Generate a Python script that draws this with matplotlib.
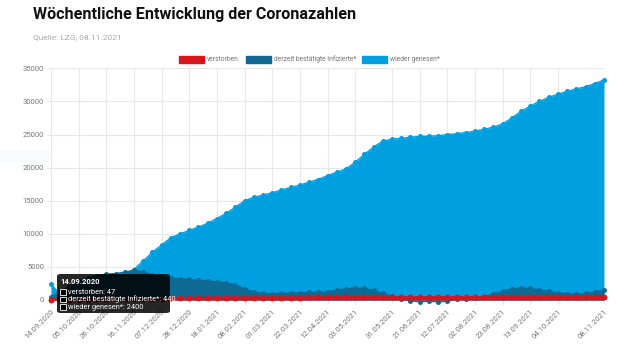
import numpy as np
import pandas as pd
import matplotlib
matplotlib.use("Agg")
import matplotlib.pyplot as plt
from matplotlib.patches import Rectangle, FancyBboxPatch

# weekly values, 14.09.2020 .. 08.11.2021
weeks = pd.date_range("2020-09-14", "2021-11-08", freq="7D")

verstorben = [47, 50, 55, 62, 70, 80, 95, 110, 130, 150,
              175, 200, 225, 250, 270, 290, 305, 320, 330, 340,
              350, 355, 360, 365, 368, 370, 372, 375, 378, 380,
              383, 386, 390, 393, 396, 398, 400, 401, 402, 403,
              404, 405, 406, 407, 408, 410, 412, 415, 418, 421,
              425, 430, 435, 440, 445, 450, 455, 460, 465, 470, 475]

infizierte = [440, 1300, 2100, 2800, 3300, 3700, 3900, 4000, 4200, 4500,
              4200, 3800, 3400, 3300, 3200, 3100, 3000, 2900, 2750, 2600,
              2300, 1700, 1200, 1000, 950, 1000, 1050, 1100, 1150, 1200,
              1250, 1450, 1700, 1800, 1750, 1450, 1000, 600, 200, -150,
              -250, -200, -250, -200, 100, 200, 300, 500, 900, 1300,
              1700, 1800, 1750, 1500, 1300, 1100, 950, 900, 1000, 1200, 1500]

genesen = [2400, 800, 1100, 1500, 2000, 2500, 3000, 3400, 3800, 4600,
           5900, 7200, 8300, 9400, 10000, 10500, 11000, 11600, 12300, 13100,
           14000, 15000, 15500, 15850, 16200, 16600, 17000, 17350, 17800, 18200,
           18800, 19300, 19800, 20800, 22000, 23100, 24000, 24300, 24400, 24600,
           24700, 24750, 24800, 25000, 25100, 25300, 25500, 25800, 26100, 26600,
           27500, 28500, 29300, 30000, 30600, 31100, 31500, 31900, 32200, 32700, 33250]

shown_ticks = ["14.09.2020", "05.10.2020", "26.10.2020", "16.11.2020", "07.12.2020",
               "28.12.2020", "18.01.2021", "08.02.2021", "01.03.2021", "22.03.2021",
               "12.04.2021", "03.05.2021", "31.05.2021", "21.06.2021", "12.07.2021",
               "02.08.2021", "23.08.2021", "13.09.2021", "04.10.2021", "08.11.2021"]

week_labels = [d.strftime("%d.%m.%Y") for d in weeks]
x = np.arange(len(weeks))
tick_pos = [week_labels.index(t) for t in shown_ticks]

RED = "#d6161c"
DARK = "#0e6a93"
LIGHT = "#009fe0"
GRID = "#e8e8e8"
W, H = 640, 351

plt.rcParams["font.family"] = ["Roboto", "DejaVu Sans"]

fig = plt.figure(figsize=(W / 100, H / 100), dpi=100)


def fx(px):
    return px / W


def fy(py):
    return 1 - py / H


ax = fig.add_axes([fx(51), fy(300), fx(604) - fx(51), fy(68.3) - fy(300)])

mk = dict(marker="o", mew=0, clip_on=False)
ax.fill_between(x, genesen, 0, color=LIGHT, lw=0, zorder=2)
ax.plot(x, genesen, color=LIGHT, lw=1, ms=3.6, zorder=2, **mk)
ax.fill_between(x, infizierte, 0, color=DARK, lw=0, zorder=3)
ax.plot(x, infizierte, color=DARK, lw=1, ms=3.6, zorder=3, **mk)
ax.fill_between(x, verstorben, 0, color=RED, lw=0, zorder=4)
ax.plot(x, verstorben, color=RED, lw=1.8, ms=4.2, zorder=4, **mk)

ax.set_xlim(0, len(weeks) - 1)
ax.set_ylim(0, 35000)
ax.set_yticks(range(0, 35001, 5000))
ax.set_xticks(tick_pos)
ax.set_xticklabels(shown_ticks, rotation=45, ha="right", va="top",
                   rotation_mode="anchor")
ax.grid(True, color=GRID, lw=0.8, zorder=0)
ax.set_axisbelow(True)
for s in ax.spines.values():
    s.set_visible(False)
ax.tick_params(axis="both", length=3, color=GRID, labelsize=5.5,
               labelcolor="#777777", pad=2)
ax.tick_params(axis="x", pad=3)

# title and source
fig.text(fx(33), fy(15), "Wöchentliche Entwicklung der Coronazahlen",
         fontsize=11.6, fontweight="bold", color="#111111", va="center")
fig.text(fx(33), fy(37), "Quelle: LZG, 08.11.2021", fontsize=6,
         color="#aaaaaa", va="center")

# legend
legend_items = [("verstorben", RED, 179), ("derzeit bestätigte Infizierte*", DARK, 246),
                ("wieder genesen*", LIGHT, 362)]
for label, col, px in legend_items:
    fig.add_artist(Rectangle((fx(px), fy(63)), fx(25), fy(56) - fy(63),
                             transform=fig.transFigure, color=col))
    fig.text(fx(px + 28), fy(59.5), label, fontsize=4.9, color="#777777", va="center")

# faint screenshot artefact
fig.add_artist(Rectangle((0, fy(161)), fx(100), fy(150) - fy(161),
                         transform=fig.transFigure, color="#f8fbfd", zorder=0))

# tooltip
fig.add_artist(FancyBboxPatch((fx(57), fy(313)), fx(113), fy(274) - fy(313),
                              boxstyle="round,pad=0,rounding_size=0.006",
                              transform=fig.transFigure, facecolor="black",
                              edgecolor="none", alpha=0.85, zorder=5))
fig.text(fx(60), fy(281), weeks[0].strftime("%d.%m.%Y"), fontsize=5.5,
         fontweight="bold", color="white", va="center", zorder=6)
tip_rows = [("verstorben", verstorben[0]),
            ("derzeit bestätigte Infizierte*", infizierte[0]),
            ("wieder genesen*", genesen[0])]
for i, (name, val) in enumerate(tip_rows):
    yy = 292 + i * 7.6
    fig.add_artist(Rectangle((fx(60), fy(yy + 2.8)), fx(5.6), fy(yy - 2.8) - fy(yy + 2.8),
                             transform=fig.transFigure, facecolor="black",
                             edgecolor="white", lw=0.6, zorder=6))
    fig.text(fx(68), fy(yy), f"{name}: {val}", fontsize=5.3, color="white",
             va="center", zorder=6)

fig.savefig("out.png", dpi=100)
